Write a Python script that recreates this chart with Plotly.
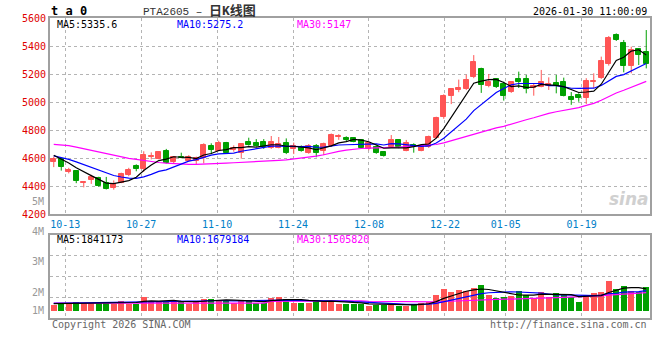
import plotly.graph_objects as go
import pandas as pd

# ---------------- data ----------------
holidays = ["2026-01-01", "2026-01-02"]
dates = [d.strftime("%m-%d") for d in pd.bdate_range("2025-10-09", "2026-01-30")
         if d.strftime("%Y-%m-%d") not in holidays]
tick_dates = ["10-13", "10-27", "11-10", "11-24", "12-08", "12-22", "01-05", "01-19"]

opens = [4568, 4590, 4502, 4505, 4422, 4440, 4460, 4420, 4388, 4424,
         4479, 4545, 4520, 4605, 4595, 4650, 4571, 4608, 4581, 4580,
         4602, 4686, 4652, 4709, 4657, 4633, 4714, 4707, 4714, 4669,
         4674, 4709, 4662, 4681, 4638, 4686, 4652, 4686, 4748, 4740,
         4745, 4726, 4662, 4681, 4645, 4681, 4729, 4652, 4693, 4652,
         4678, 4745, 4890, 5045, 5086, 5090, 5176, 5235, 5114, 5162,
         5131, 5074, 5164, 5164, 5102, 5110, 5117, 5133, 5143, 5036,
         5050, 5031, 5145, 5174, 5269, 5479, 5419, 5260, 5376, 5359]
highs = [4610, 4595, 4530, 4510, 4428, 4480, 4466, 4465, 4440, 4495,
         4530, 4555, 4648, 4640, 4645, 4665, 4612, 4638, 4620, 4610,
         4705, 4705, 4724, 4715, 4690, 4705, 4745, 4735, 4735, 4757,
         4750, 4740, 4710, 4690, 4700, 4700, 4710, 4775, 4770, 4755,
         4750, 4730, 4710, 4690, 4650, 4764, 4735, 4729, 4705, 4695,
         4760, 4895, 5055, 5100, 5160, 5195, 5335, 5245, 5200, 5168,
         5145, 5150, 5217, 5193, 5133, 5229, 5176, 5193, 5174, 5071,
         5062, 5170, 5205, 5324, 5471, 5490, 5443, 5395, 5383, 5514]
lows = [4535, 4510, 4490, 4420, 4390, 4415, 4395, 4375, 4374, 4420,
        4470, 4505, 4502, 4590, 4590, 4560, 4560, 4598, 4575, 4550,
        4562, 4628, 4648, 4633, 4645, 4595, 4688, 4681, 4665, 4665,
        4669, 4628, 4628, 4645, 4630, 4605, 4620, 4680, 4730, 4715,
        4712, 4670, 4655, 4630, 4610, 4675, 4670, 4648, 4638, 4648,
        4672, 4740, 4880, 4985, 5070, 5085, 5170, 5065, 5105, 5100,
        5010, 5065, 5100, 5062, 5045, 5105, 5086, 5062, 5040, 4980,
        5002, 4986, 5098, 5165, 5260, 5436, 5212, 5205, 5264, 5240]
closes = [4592, 4533, 4515, 4435, 4426, 4462, 4400, 4380, 4414, 4484,
          4514, 4520, 4621, 4612, 4640, 4566, 4605, 4603, 4607, 4598,
          4696, 4657, 4709, 4638, 4669, 4700, 4693, 4686, 4681, 4714,
          4700, 4638, 4686, 4652, 4686, 4633, 4700, 4764, 4757, 4729,
          4717, 4674, 4705, 4638, 4614, 4729, 4676, 4705, 4681, 4688,
          4750, 4885, 5045, 5090, 5098, 5157, 5283, 5118, 5140, 5110,
          5045, 5140, 5140, 5090, 5117, 5140, 5132, 5117, 5045, 5016,
          5030, 5149, 5150, 5290, 5455, 5443, 5260, 5371, 5336, 5268]
volumes = [560000, 640000, 640000, 750000, 690000, 690000, 670000, 750000, 580000, 830000,
           640000, 640000, 1190000, 830000, 750000, 830000, 750000, 750000, 640000, 830000,
           1000000, 1000000, 920000, 830000, 720000, 830000, 920000, 690000, 690000, 1080000,
           1170000, 1000000, 720000, 720000, 720000, 920000, 830000, 830000, 580000, 640000,
           640000, 580000, 470000, 500000, 500000, 500000, 420000, 470000, 580000, 690000,
           750000, 1330000, 1830000, 1580000, 1750000, 1690000, 1920000, 2170000, 1360000, 1110000,
           1170000, 1280000, 1670000, 1330000, 1110000, 1580000, 1170000, 1500000, 1330000, 1170000,
           750000, 1330000, 1500000, 1580000, 2500000, 1830000, 2080000, 1670000, 1580000, 2000000]

# moving-average values for the days before enough history is shown
ma5_head = [4620, 4595, 4565, 4530]
ma10_head = [4615, 4605, 4590, 4572, 4552, 4535, 4510, 4490, 4475]
ma30_head = [4698, 4695, 4688, 4678, 4666, 4655, 4645, 4633, 4620, 4607,
             4597, 4590, 4581, 4572, 4568, 4563, 4559, 4556, 4555, 4555,
             4556, 4557, 4558, 4563, 4566, 4568, 4572, 4576, 4577]
vma5_head = [600000, 610000, 620000, 640000]
vma10_head = [620000, 630000, 640000, 650000, 660000, 660000, 665000, 670000, 680000]
vma30_head = [640000] * 29

ma_labels = ["MA5:5335.6", "MA10:5275.2", "MA30:5147"]
vma_labels = ["MA5:1841173", "MA10:1679184", "MA30:1505820"]
price_ticks = [4200, 4400, 4600, 4800, 5000, 5200, 5400, 5600]
vol_labels = ["5M", "4M", "3M", "2M", "1M"]


def moving(vals, n, head):
    out = list(head)
    for k in range(len(head), len(vals)):
        out.append(sum(vals[k - n + 1:k + 1]) / n)
    return out


ma5 = moving(closes, 5, ma5_head)
ma10 = moving(closes, 10, ma10_head)
ma30 = moving(closes, 30, ma30_head)
vma5 = moving(volumes, 5, vma5_head)
vma10 = moving(volumes, 10, vma10_head)
vma30 = moving(volumes, 30, vma30_head)

# ---------------- style ----------------
RED = "#ff5555"
GREEN = "#00a000"
GRID = "#b4b4b4"
BORDER = "#a0a0a0"
MONO = "DejaVu Sans Mono, Liberation Mono, monospace"

W, H = 660, 360
L, R, T, B = 50, 10, 18, 42
PH = H - T - B  # plot height in px


def px(xp):
    return (xp - L) / (W - L - R)


def py(yp):
    return (H - B - yp) / PH


n = len(closes)
xs = list(range(n))
up = [c >= o for o, c in zip(opens, closes)]
colors = [RED if u else GREEN for u in up]

fig = go.Figure()

# wicks
for flag, col in ((True, RED), (False, GREEN)):
    wx, wy = [], []
    for i in xs:
        if up[i] == flag:
            wx += [i, i, None]
            wy += [lows[i], highs[i], None]
    fig.add_trace(go.Scatter(x=wx, y=wy, mode="lines", line=dict(color=col, width=1),
                             hoverinfo="skip", xaxis="x", yaxis="y"))

# bodies
fig.add_trace(go.Bar(
    x=xs, y=[max(abs(c - o), 3) for o, c in zip(opens, closes)],
    base=[min(o, c) for o, c in zip(opens, closes)],
    width=0.66, marker=dict(color=colors, line=dict(color=colors, width=1)),
    xaxis="x", yaxis="y"))

for vals, col in ((ma30, "#ff00ff"), (ma10, "#0000ff"), (ma5, "#000000")):
    fig.add_trace(go.Scatter(x=xs, y=vals, mode="lines", line=dict(color=col, width=1.2),
                             xaxis="x", yaxis="y"))

# volume
fig.add_trace(go.Bar(x=xs, y=volumes, width=0.8, marker=dict(color=colors, line=dict(width=0)),
                     xaxis="x2", yaxis="y2"))
for vals, col in ((vma30, "#ff00ff"), (vma10, "#0000ff"), (vma5, "#000000")):
    fig.add_trace(go.Scatter(x=xs, y=vals, mode="lines", line=dict(color=col, width=1.2),
                             xaxis="x2", yaxis="y2"))

tick_idx = [dates.index(d) for d in tick_dates]
tick_pos = [k * n / (n - 1) - 0.5 for k in tick_idx]

price_dom = [py(214), 1]
vol_dom = [0, py(234.5)]
vmin, vmax = -0.61e6, 6.39e6

axis_common = dict(showline=True, mirror=True, linecolor=BORDER, linewidth=2, automargin=False,
                   gridcolor=GRID, griddash="dot", gridwidth=1, zeroline=False, ticks="")

fig.update_layout(
    width=W, height=H, margin=dict(l=L, r=R, t=T, b=B, autoexpand=False),
    paper_bgcolor="white", plot_bgcolor="white", showlegend=False,
    barmode="overlay", bargap=0,
    font=dict(family=MONO, size=10),
    xaxis=dict(domain=[0, 1], range=[-0.5, n - 0.5], tickvals=tick_pos, ticktext=tick_dates,
               tickfont=dict(color="#0080c8", size=10, family=MONO), anchor="y", **axis_common),
    yaxis=dict(domain=price_dom, range=[4200, 5600], tickvals=price_ticks,
               tickfont=dict(color="#e00000", size=10, family=MONO), anchor="x", **axis_common),
    xaxis2=dict(domain=[0, 1], range=[-0.5, n - 0.5], tickvals=tick_pos, showticklabels=False,
                anchor="y2", matches="x", **axis_common),
    yaxis2=dict(domain=vol_dom, range=[vmin, vmax],
                tickvals=[vmin + (vmax - vmin) * k / 4 for k in (1, 2, 3)],
                showticklabels=False, anchor="x2", **axis_common),
)

ann = []


def text(t, x, y, color="#000", size=10, xanchor="left", family=MONO, **kw):
    ann.append(dict(text=t, x=px(x), y=py(y), xref="paper", yref="paper", showarrow=False,
                    xanchor=xanchor, yanchor="middle", font=dict(color=color, size=size, family=family), **kw))


text("<b>t a 0</b>", 49, 11, size=12)
text("PTA2605 – <span style='font-size:13px'><b>日K线图</b></span>", 141, 11, color="#333",
     size=11, family="Liberation Mono, Noto Sans CJK SC")
text("2026-01-30 11:00:09", 649, 12, xanchor="right", size=10)
for lab, x0, col in zip(ma_labels, (55, 175, 295), ("#000000", "#0000ff", "#ff00ff")):
    text(lab, x0, 24, color=col, size=10)
for lab, x0, col in zip(vma_labels, (55, 175, 295), ("#000000", "#0000ff", "#ff00ff")):
    text(lab, x0, 239, color=col, size=10)
for lab, yp in zip(vol_labels, (201, 231, 261, 292, 310)):
    text(lab, 46, yp, color="#999999", size=10, xanchor="right")
text("Copyright 2026 SINA.COM", 50, 324, color="#666666", size=10)
text("http://finance.sina.com.cn", 649, 324, color="#666666", size=10, xanchor="right")
text("<b><i>sina</i></b>", 651, 199, color="#d0d0d0", size=17, xanchor="right",
     family="DejaVu Sans")
fig.update_layout(annotations=ann)

fig.write_html("out.html", config={"displayModeBar": False},
               post_script="document.body.style.margin='0';")
